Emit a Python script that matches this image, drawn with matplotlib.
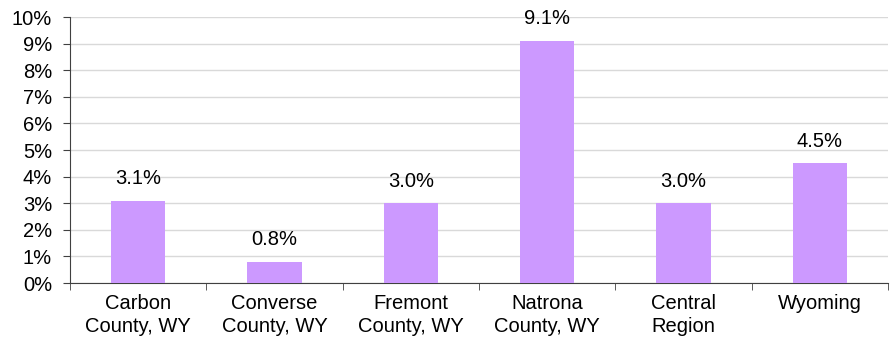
import numpy as np
import matplotlib.pyplot as plt
from matplotlib.ticker import PercentFormatter, FixedLocator

plt.rcParams['font.family'] = ['Liberation Sans', 'DejaVu Sans']

# Dados
categorias = ["Carbon\nCounty, WY", "Converse\nCounty, WY", "Fremont\nCounty, WY",
              "Natrona\nCounty, WY", "Central\nRegion", "Wyoming"]
valores = [3.1, 0.8, 3.0, 9.1, 3.0, 4.5]

fig = plt.figure(figsize=(8.91, 3.41), dpi=100)
ax = fig.add_axes([0.0786, 0.170, 0.918, 0.780])

x = np.arange(len(categorias))
ax.bar(x, valores, width=0.40, color="#CC99FF", zorder=3)

for xi, v in zip(x, valores):
    ax.annotate(f"{v:.1f}%", (xi, v), xytext=(0, 9), textcoords="offset points",
                ha="center", va="bottom", fontsize=14.5)

ax.set_xlim(-0.5, len(categorias) - 0.5)
ax.set_ylim(0, 10)
ax.set_yticks(np.arange(0, 11, 1))
ax.yaxis.set_major_formatter(PercentFormatter(decimals=0))
ax.grid(axis="y", color="#D9D9D9", linewidth=1.0, zorder=0)

ax.set_xticks(x)
ax.set_xticklabels(categorias, fontsize=14.5, linespacing=1.25)
ax.tick_params(axis="x", which="major", length=0, pad=8)
ax.xaxis.set_minor_locator(FixedLocator(np.arange(-0.5, len(categorias), 1.0)))
ax.tick_params(axis="x", which="minor", length=5, color="#404040")
ax.tick_params(axis="y", labelsize=14.5, length=5, color="#404040", pad=8)

for s in ["top", "right"]:
    ax.spines[s].set_visible(False)
for s in ["left", "bottom"]:
    ax.spines[s].set_color("#404040")

plt.savefig("out.png", dpi=100)
